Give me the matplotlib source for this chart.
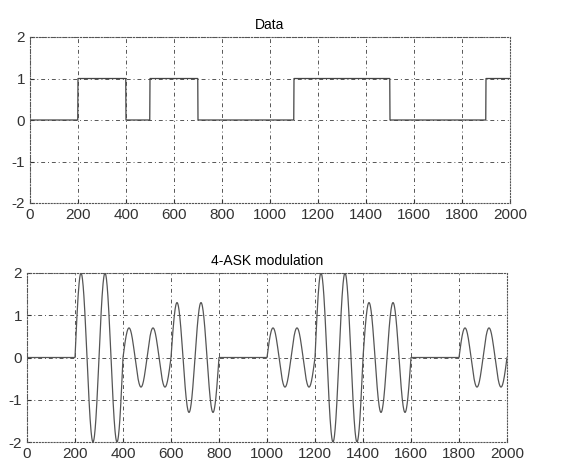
import numpy as np
import matplotlib.pyplot as plt

plt.rcParams['font.family'] = ['Liberation Sans', 'DejaVu Sans']
plt.rcParams['axes.unicode_minus'] = False

# data bits, one per 100 samples
bits = [0, 0, 1, 1, 0, 1, 1, 0, 0, 0, 0, 1, 1, 1, 1, 0, 0, 0, 0, 1]
bit_len = 100

# 4-ASK amplitudes, one per symbol (200 samples)
amps = [0, 2, 0.7, 1.3, 0, 0.7, 2, 1.3, 0, 0.7]
sym_len = 200
carrier_period = 100

xticks = [0, 200, 400, 600, 800, 1000, 1200, 1400, 1600, 1800, 2000]
yticks = [-2, -1, 0, 1, 2]

t = np.arange(len(bits) * bit_len + 1)
data = np.append(np.repeat(bits, bit_len), bits[-1])
env = np.append(np.repeat(amps, sym_len), amps[-1])
sig = env * np.sin(2 * np.pi * t / carrier_period)

fig = plt.figure(figsize=(5.62, 4.63), dpi=100)
ax1 = fig.add_axes([30 / 562, 1 - 203 / 463, 480 / 562, 166 / 463])
ax2 = fig.add_axes([27 / 562, 1 - 442 / 463, 480 / 562, 169 / 463])

ax1.plot(t, data, color='#444444', lw=0.9)
ax2.plot(t, sig, color='#555555', lw=0.9)

for ax, title in [(ax1, 'Data'), (ax2, '4-ASK modulation')]:
    ax.set_xlim(0, 2000)
    ax.set_ylim(-2, 2)
    ax.set_xticks(xticks)
    ax.set_yticks(yticks)
    ax.set_title(title, fontsize=10, pad=6)
    ax.grid(True, color='#555555', linestyle=(0, (4, 3, 1, 3)), lw=0.7)
    ax.tick_params(direction='in', length=3, labelsize=11, colors='#333333')
    for s in ax.spines.values():
        s.set_color('#555555')
        s.set_linewidth(0.8)
        s.set_linestyle(':')

fig.savefig('out.png', dpi=100)
